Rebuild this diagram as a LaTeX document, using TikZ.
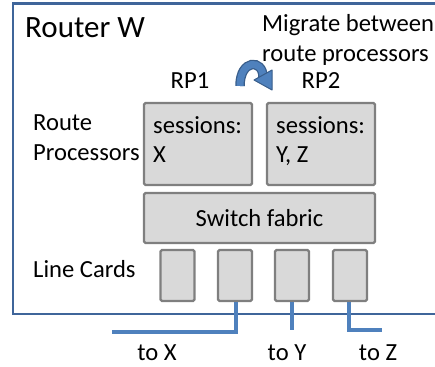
\documentclass[tikz,border=0pt]{standalone}
\usepackage{fontspec}
\setmainfont{Carlito}
\definecolor{frameblue}{HTML}{3F659A}
\definecolor{lineblue}{HTML}{4F81BD}
\definecolor{arrowedge}{HTML}{385D8A}
\definecolor{boxfill}{HTML}{D9D9D9}
\definecolor{boxedge}{HTML}{7F7F7F}
\tikzset{
  graybox/.style={draw=boxedge, fill=boxfill, line width=2.4pt, rounded corners=1.5pt, inner sep=0pt, anchor=center},
  lbl/.style={inner sep=0pt, anchor=base west, font=\fontsize{24.6}{29}\selectfont},
  clbl/.style={inner sep=0pt, anchor=base, font=\fontsize{24.6}{29}\selectfont},
  wire/.style={draw=lineblue, line width=3.2pt},
}
\begin{document}
\begin{tikzpicture}[x=1pt,y=-1pt]
\useasboundingbox (0,0) rectangle (435,366);
% outer router frame (open on the right)
\draw[frameblue, line width=2.6pt] (437,3.5) -- (13,3.5) -- (13,314) -- (437,314);

\node[lbl, font=\fontsize{31}{36}\selectfont] (title) at (25,38) {Router W};
\node[lbl] (mig1) at (262,32) {Migrate between};
\node[lbl] (mig2) at (262,62) {route processors};
\node[clbl] (rp1) at (190,89) {RP1};
\node[clbl] (rp2) at (321,89) {RP2};
\node[lbl] (rpa) at (33,131) {Route};
\node[lbl] (rpb) at (33,160) {Processors};
\node[lbl] (lc) at (33,277) {Line Cards};

% route processors
\node[graybox, minimum width=108pt, minimum height=82pt] (p1) at (198,144) {};
\node[graybox, minimum width=108pt, minimum height=82pt] (p2) at (321,144) {};
\node[lbl] (s1a) at (153,133) {sessions:};
\node[lbl] (s1b) at (153,162) {X};
\node[lbl] (s2a) at (276,133) {sessions:};
\node[lbl] (s2b) at (276,162) {Y, Z};

% switch fabric
\node[graybox, minimum width=231pt, minimum height=50pt, font=\fontsize{24.6}{29}\selectfont] (sw) at (259.5,218) {Switch fabric};

% line cards
\node[graybox, minimum width=34pt, minimum height=51pt] (c1) at (177.5,275.5) {};
\node[graybox, minimum width=34pt, minimum height=51pt] (c2) at (235,275.5) {};
\node[graybox, minimum width=34pt, minimum height=51pt] (c3) at (292,275.5) {};
\node[graybox, minimum width=34pt, minimum height=51pt] (c4) at (350,275.5) {};

% external links
\coordinate (ex) at (112,332);
\coordinate (ey) at (292,330);
\coordinate (ez) at (382,330);
\draw[wire] ([xshift=1pt]c2.south) |- (ex);
\draw[wire] (c3.south) -- (ey);
\draw[wire] ([xshift=-1pt]c4.south) |- (ez);
\node[clbl] (tx) at (157,360) {to X};
\node[clbl] (ty) at (287,360) {to Y};
\node[clbl] (tz) at (378,360) {to Z};

% migrate arrow
\coordinate (a0) at (240,86);
\coordinate (a1) at (263,77);
\draw[arrowedge, line width=9.5pt] (a0) .. controls (240,59) and (263,59) .. (a1);
\draw[lineblue, line width=7pt] (a0) .. controls (240,59) and (263,59) .. (a1);
\filldraw[fill=lineblue, draw=arrowedge, line width=1pt, line join=round] (254,80) -- (272,90) -- (272,70) -- cycle;
\end{tikzpicture}
\end{document}
